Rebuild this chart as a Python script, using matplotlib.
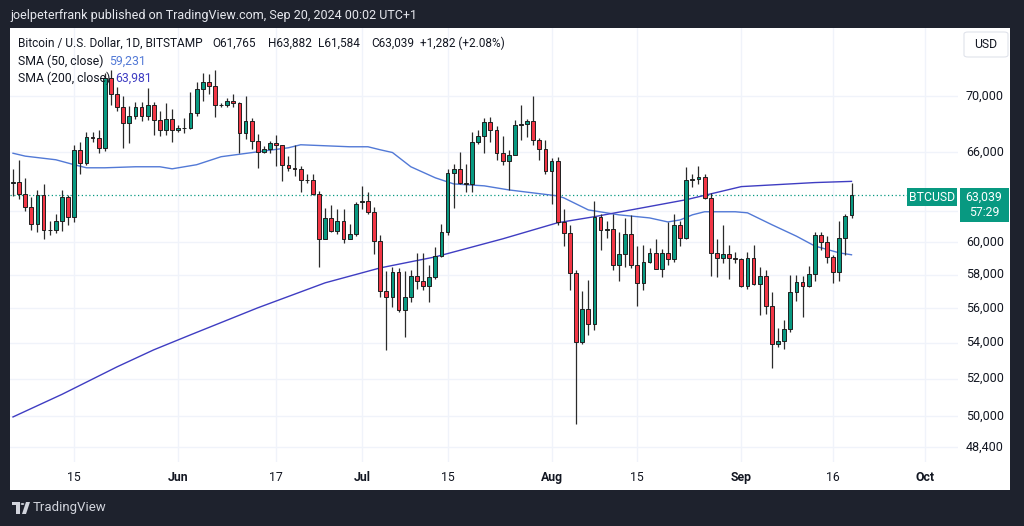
import numpy as np
import pandas as pd
import matplotlib
matplotlib.use("Agg")
import matplotlib.pyplot as plt
from matplotlib.patches import Rectangle, FancyBboxPatch, Polygon, Circle
from matplotlib.ticker import NullLocator

plt.rcParams['font.family'] = ['Roboto', 'DejaVu Sans']

#-------------
#data (BTC/USD daily, Bitstamp)
#-------------
start = pd.Timestamp("2024-05-05")
dates = pd.date_range(start, "2024-09-19", freq="D")

opens = [63850, 63950, 63150, 62300, 61150, 63050, 60800, 60800, 61400, 62950,
         61600, 66150, 65250, 67000, 66950, 66250, 71350, 70100, 69150, 68000,
         68500, 69200, 68500, 69350, 68250, 67550, 68300, 67500, 67650, 67700,
         68750, 70500, 71050, 70750, 69300, 69300, 69600, 69500, 67350, 68200,
         66750, 66000, 66200, 66600, 66450, 65100, 64900, 64800, 64050, 64100,
         63150, 60250, 61550, 60750, 61400, 60250, 60550, 62600, 62650, 61950,
         60100, 57000, 56650, 58150, 55900, 56650, 57950, 57650, 57300, 57850,
         59150, 60650, 64550, 64800, 63850, 63800, 66700, 67100, 68100, 67550,
         65950, 65350, 65800, 67850, 67950, 68150, 66800, 66200, 64650, 65350,
         61300, 60600, 58100, 54050, 55950, 55100, 61650, 60800, 60850, 58600,
         59250, 60550, 58600, 57500, 58800, 59350, 58350, 59350, 58950, 61100,
         60300, 64050, 64150, 64250, 62850, 59350, 59000, 59250, 59050, 58950,
         57300, 59000, 57450, 57900, 56100, 53950, 54100, 54800, 56950, 57550,
         57300, 58050, 60450, 60000, 59100, 58150, 60300, 61765]
highs = [64800, 65450, 64200, 62950, 63400, 63800, 61350, 61800, 63400, 63100,
         66500, 66700, 67400, 67400, 67500, 71700, 71900, 70650, 70000, 69250,
         69550, 69550, 70550, 69550, 68900, 69500, 69000, 67850, 68400, 70250,
         71000, 71700, 71600, 71900, 69500, 69850, 70100, 69550, 69950, 68400,
         67250, 66400, 66750, 67150, 66500, 65700, 66450, 65050, 64450, 64500,
         63350, 62200, 62400, 62150, 62150, 61200, 62600, 63650, 63300, 62300,
         60450, 58200, 58450, 58400, 58200, 58300, 59350, 59350, 58600, 59700,
         61200, 64850, 65150, 66000, 65150, 67400, 67550, 68400, 68450, 67800,
         67100, 66100, 68250, 69350, 68300, 69950, 66950, 66800, 65600, 65650,
         62150, 61100, 58300, 57000, 57700, 62700, 61800, 61400, 61800, 60650,
         61550, 61750, 59800, 59850, 59650, 60250, 59600, 61300, 61800, 61400,
         64950, 64500, 65050, 64500, 63200, 60200, 61100, 59850, 59400, 59050,
         59400, 59850, 58500, 58300, 56950, 54850, 55300, 58000, 58000, 57950,
         58550, 60650, 60650, 60400, 59200, 61350, 61800, 63882]
lows = [63000, 62800, 62000, 60800, 60650, 60200, 60450, 60600, 60750, 61100,
        61300, 64500, 65100, 66650, 65950, 66050, 69300, 68900, 66250, 66600,
        68350, 68200, 68250, 67200, 67100, 67150, 66650, 67400, 67300, 67600,
        68500, 69600, 70150, 68450, 69150, 69150, 69200, 65950, 66900, 66200,
        64900, 65900, 65950, 65050, 64000, 64700, 64350, 63300, 63900, 63050,
        58450, 60200, 60650, 60550, 59950, 60200, 60400, 62150, 61800, 59250,
        56650, 53600, 56050, 55800, 54350, 56350, 57150, 57100, 56350, 57750,
        59100, 60500, 62200, 63800, 63250, 63300, 66550, 65900, 66650, 65450,
        65100, 63400, 65750, 66800, 67050, 66500, 65400, 64500, 62500, 61100,
        59750, 57100, 49600, 53950, 54450, 54750, 59550, 60300, 58300, 57650,
        58450, 58400, 56150, 57100, 58750, 58350, 57850, 58600, 58800, 59800,
        60250, 63600, 63800, 62800, 57950, 57850, 58750, 57750, 58750, 57250,
        57150, 57400, 55600, 55650, 52600, 53750, 53650, 54600, 56400, 55500,
        57250, 57650, 59550, 58700, 57500, 57650, 59200, 61584]
closes = [63950, 63150, 62300, 61150, 63050, 60800, 60800, 61400, 62950, 61600,
          66150, 65250, 67000, 66950, 66250, 71350, 70100, 69150, 68000, 68500,
          69200, 68500, 69350, 68250, 67550, 68300, 67500, 67650, 67700, 68750,
          70500, 71050, 70750, 69300, 69300, 69600, 69500, 67350, 68200, 66750,
          66000, 66200, 66600, 66450, 65100, 64900, 64800, 64050, 64100, 63150,
          60250, 61550, 60750, 61400, 60250, 60550, 62500, 62650, 61950, 60100,
          57000, 56650, 58150, 55900, 56650, 57950, 57650, 57300, 57850, 59150,
          60650, 64550, 64800, 63850, 63800, 66700, 67100, 68100, 67550, 65950,
          65350, 65800, 67850, 67950, 68150, 66800, 66200, 64650, 65350, 61300,
          60600, 58100, 54050, 55950, 55100, 61650, 60800, 60850, 58600, 59250,
          60550, 58600, 57500, 58800, 59350, 58350, 59350, 58950, 61100, 60300,
          64050, 64150, 64250, 62850, 59350, 59000, 59250, 59050, 58950, 57300,
          59000, 57450, 57900, 56100, 53950, 54100, 54800, 56950, 57550, 57300,
          58050, 60450, 60000, 59100, 58150, 60300, 61700, 63039]

#moving averages (day offset from May 5, value)
sma50_days = [0, 2, 7, 10, 12, 15, 20, 24, 26, 30, 34, 40, 45, 47, 51, 55, 58, 60,
              62, 65, 69, 72, 77, 81, 89, 90, 94, 99, 104, 107, 109, 111, 113, 118,
              120, 124, 128, 131, 135, 137]
sma50_vals = [65900, 65700, 65450, 65110, 64900, 64900, 64970, 64970, 64830, 65110,
              65660, 66000, 66280, 66490, 66420, 66350, 66350, 66140, 65950, 64970,
              64220, 63810, 63680, 63410, 63010, 62880, 62090, 61770, 61570, 61310,
              61440, 61770, 61970, 61970, 61900, 61130, 60400, 59780, 59350, 59231]
sma200_days = [0, 8, 17, 23, 29, 40, 51, 60, 69, 80, 89, 95, 110, 119, 131, 137]
sma200_vals = [49950, 51150, 52650, 53600, 54450, 56020, 57510, 58420, 59100,
               60230, 61260, 61650, 62760, 63630, 63900, 63981]

price_ticks = [70000, 66000, 60000, 58000, 56000, 54000, 52000, 50000, 48400]
grid_prices = [70000, 66000, 62000, 60000, 58000, 56000, 54000, 52000, 50000, 48400]
time_ticks = ["2024-05-15", "2024-06-01", "2024-06-17", "2024-07-01", "2024-07-15",
              "2024-08-01", "2024-08-15", "2024-09-01", "2024-09-16", "2024-10-01"]
time_labels = ["15", "Jun", "17", "Jul", "15", "Aug", "15", "Sep", "16", "Oct"]

#-------------
#colours
#-------------
BG = '#1e222d'
UP = '#089981'
DOWN = '#f23645'
TXT = '#131722'
GRID = '#f0f3fa'
SMA50_C = '#5279d6'
SMA200_C = '#3f3dc2'
FS = 8.8

W, H = 1024, 526
fig = plt.figure(figsize=(W / 100, H / 100), dpi=100)
fig.patch.set_facecolor(BG)

def fx(x):
    return x / W

def fy(y):
    return 1 - y / H

#white panel (behind the axes)
fig.patches.append(Rectangle((fx(10), fy(490)), fx(1000), 462 / H,
                             transform=fig.transFigure, facecolor='white',
                             edgecolor='none', zorder=-5))

ax = fig.add_axes([fx(10), fy(462), fx(948), 434 / H])
ax.set_facecolor('white')
for s in ax.spines.values():
    s.set_visible(False)
ax.set_yscale('log')
ax.set_xlim(-0.49, 154.4)
ax.set_ylim(47640, 75170)
ax.set_xticks([])
ax.set_yticks([])
ax.yaxis.set_minor_locator(NullLocator())

x = np.arange(len(dates))
o = np.array(opens, float)
h = np.array(highs, float)
l = np.array(lows, float)
c = np.array(closes, float)

#grid
for p in grid_prices:
    ax.axhline(p, color=GRID, lw=1.0, zorder=0)
tick_x = [(pd.Timestamp(d) - start).days for d in time_ticks]
for tx in tick_x:
    ax.axvline(tx, color=GRID, lw=1.0, zorder=0)

#moving averages
ax.plot(sma50_days, sma50_vals, color=SMA50_C, lw=1.0, zorder=2)
ax.plot(sma200_days, sma200_vals, color=SMA200_C, lw=1.0, zorder=2)

#last price dotted line
ax.axhline(closes[-1], color=UP, lw=0.9, ls=(0, (1, 2)), zorder=1)

#candles
up = c >= o
cols = np.where(up, UP, DOWN)
ax.vlines(x, l, h, color='#2b2b2b', lw=0.9, zorder=3)
ax.bar(x, np.abs(c - o), bottom=np.minimum(o, c), width=0.62, color=cols,
       edgecolor='#1f1f1f', linewidth=0.7, zorder=4)

#price scale labels
for p in price_ticks:
    ax.text(1.0485, p, f"{p:,}", transform=ax.get_yaxis_transform(),
            ha='right', va='center', fontsize=9, color=TXT, clip_on=False)

#time scale labels
for tx, lab in zip(tick_x, time_labels):
    wt = 'semibold' if not lab.isdigit() else 'normal'
    ax.text(tx, -0.0346, lab, transform=ax.get_xaxis_transform(),
            ha='center', va='center', fontsize=FS, color=TXT,
            fontweight=wt, clip_on=False)

#USD box
fig.patches.append(FancyBboxPatch((fx(964), fy(57)), fx(44), 25 / H,
                                  boxstyle='round,pad=0,rounding_size=0.004',
                                  transform=fig.transFigure, facecolor='white',
                                  edgecolor='#e0e3eb', lw=0.8, zorder=5))
fig.text(fx(986), fy(44.5), "USD", ha='center', va='center', fontsize=FS,
         color=TXT, zorder=6)

#price label boxes
fig.patches.append(Rectangle((fx(907), fy(206)), fx(50), 18 / H,
                             transform=fig.transFigure, facecolor=UP,
                             edgecolor='none', zorder=5))
fig.text(fx(932), fy(197.5), "BTCUSD", ha='center', va='center', fontsize=FS,
         color='white', zorder=6)
fig.patches.append(Rectangle((fx(960), fy(222)), fx(49), 34 / H,
                             transform=fig.transFigure, facecolor=UP,
                             edgecolor='none', zorder=5))
fig.text(fx(984), fy(197.5), f"{closes[-1]:,}", ha='center', va='center',
         fontsize=FS, color='white', zorder=6)
fig.text(fx(984), fy(212), "57:29", ha='center', va='center', fontsize=FS,
         color='white', zorder=6)

#legend
leg_y1, leg_y2, leg_y3 = 43, 61, 78
fig.text(fx(18), fy(leg_y1), "Bitcoin / U.S. Dollar, 1D, BITSTAMP", ha='left',
         va='center', fontsize=8.6, color=TXT)
ohlc = [(212, f"O{opens[-1]:,}"), (268, f"H{highs[-1]:,}"), (318, f"L{lows[-1]:,}"),
        (371, f"C{closes[-1]:,}"), (420, "+1,282 (+2.08%)")]
for px_, s in ohlc:
    fig.text(fx(px_), fy(leg_y1), s, ha='left', va='center', fontsize=8.5, color=TXT)
fig.text(fx(18), fy(leg_y2), "SMA (50, close)", ha='left', va='center',
         fontsize=FS, color=TXT)
fig.text(fx(109), fy(leg_y2), f"{sma50_vals[-1]:,}", ha='left', va='center',
         fontsize=FS, color=SMA50_C)
fig.text(fx(18), fy(leg_y3), "SMA (200, close)", ha='left', va='center',
         fontsize=FS, color=TXT)
fig.text(fx(115), fy(leg_y3), f"{sma200_vals[-1]:,}", ha='left', va='center',
         fontsize=FS, color=SMA200_C)

#header
fig.text(fx(10), fy(15), "joelpeterfrank published on TradingView.com, Sep 20, 2024 00:02 UTC+1",
         ha='left', va='center', fontsize=9, color='#e6e8ee')

#footer logo
LOGO = '#d1d4dc'
fig.patches.append(Rectangle((fx(12), fy(505)), fx(8), 3 / H, transform=fig.transFigure,
                             facecolor=LOGO, edgecolor='none'))
fig.patches.append(Rectangle((fx(16), fy(514)), fx(4), 12 / H, transform=fig.transFigure,
                             facecolor=LOGO, edgecolor='none'))
fig.patches.append(Circle((fx(22.5), fy(504)), 1.8 / W, transform=fig.transFigure,
                          facecolor=LOGO, edgecolor='none'))
fig.patches.append(Polygon([(fx(22), fy(514)), (fx(26), fy(502)), (fx(30), fy(502)),
                            (fx(26), fy(514))], closed=True, transform=fig.transFigure,
                           facecolor=LOGO, edgecolor='none'))
fig.text(fx(33), fy(508), "TradingView", ha='left', va='center', fontsize=9.5,
         color=LOGO)

fig.savefig("out.png", dpi=100, facecolor=fig.get_facecolor())
